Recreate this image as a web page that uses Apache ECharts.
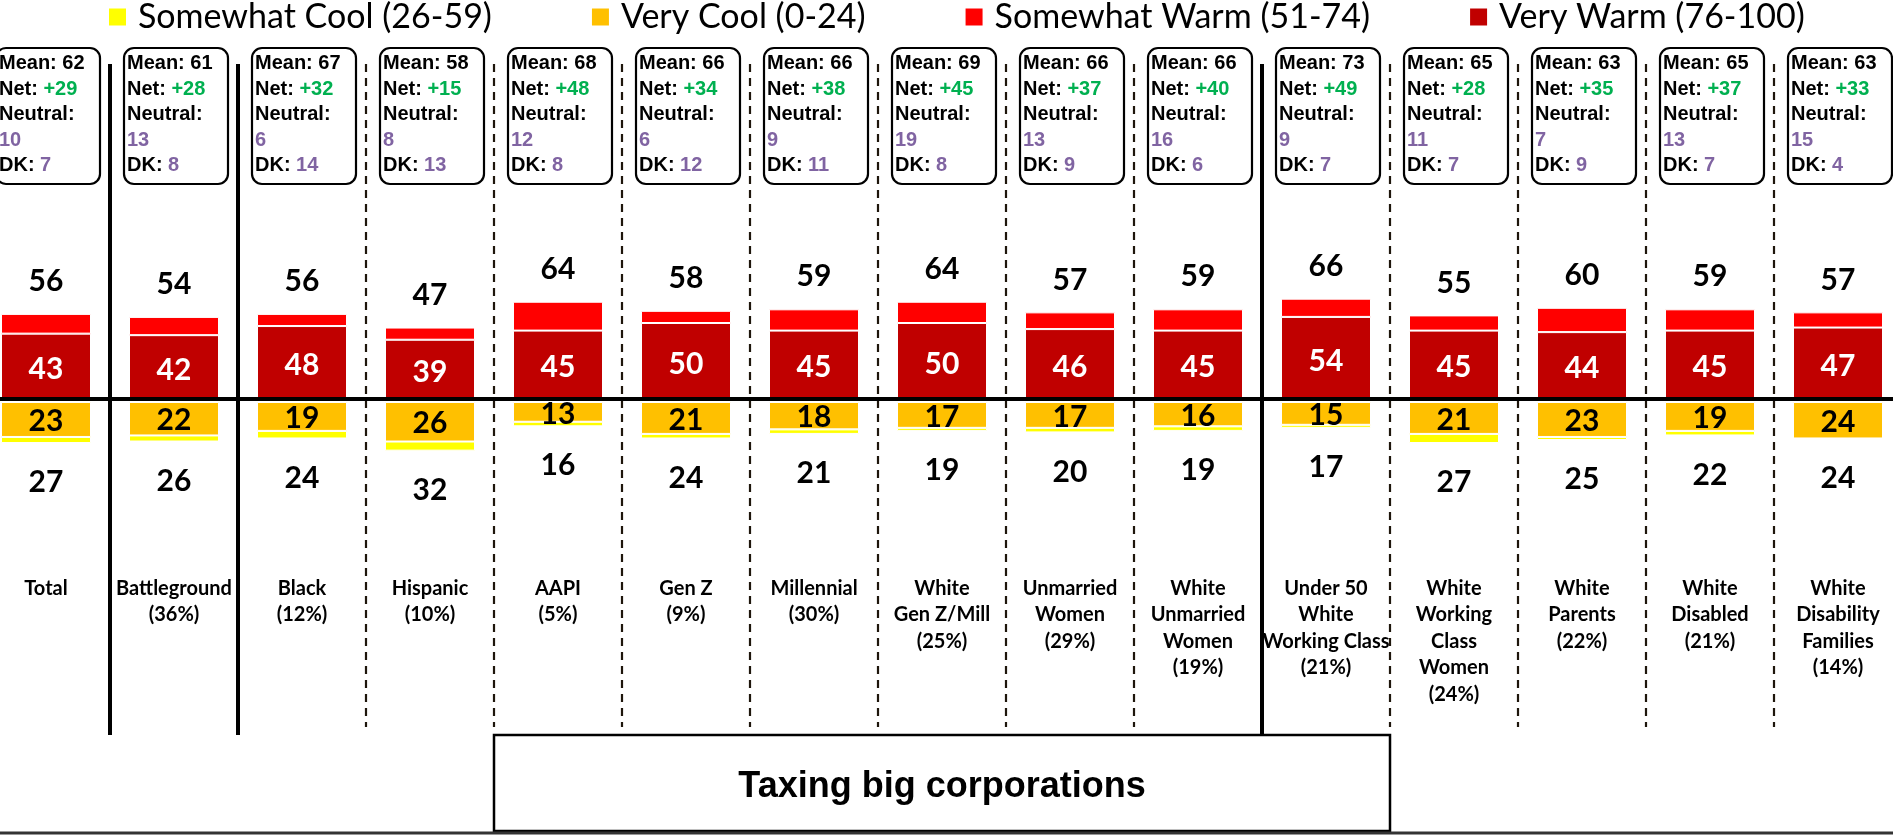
<!DOCTYPE html>
<html><head><meta charset="utf-8">
<script src="https://cdn.jsdelivr.net/npm/echarts@6/dist/echarts.min.js"></script>
<style>html,body{margin:0;padding:0;background:#fff}#c{width:1893px;height:836px}</style>
</head><body><div id="c"></div>
<script>
const categories = ['Total', 'Battleground\n(36%)', 'Black\n(12%)', 'Hispanic\n(10%)', 'AAPI\n(5%)', 'Gen Z\n(9%)', 'Millennial\n(30%)', 'White\nGen Z/Mill\n(25%)', 'Unmarried\nWomen\n(29%)', 'White\nUnmarried\nWomen\n(19%)', 'Under 50\nWhite\nWorking Class\n(21%)', 'White\nWorking\nClass\nWomen\n(24%)', 'White\nParents\n(22%)', 'White\nDisabled\n(21%)', 'White\nDisability\nFamilies\n(14%)'];
const veryWarm  = [43, 42, 48, 39, 45, 50, 45, 50, 46, 45, 54, 45, 44, 45, 47];
const warmTotal = [56, 54, 56, 47, 64, 58, 59, 64, 57, 59, 66, 55, 60, 59, 57];
const veryCool  = [23, 22, 19, 26, 13, 21, 18, 17, 17, 16, 15, 21, 23, 19, 24];
const coolTotal = [27, 26, 24, 32, 16, 24, 21, 19, 20, 19, 17, 27, 25, 22, 24];
const means    = [62, 61, 67, 58, 68, 66, 66, 69, 66, 66, 73, 65, 63, 65, 63];
const nets     = [29, 28, 32, 15, 48, 34, 38, 45, 37, 40, 49, 28, 35, 37, 33];
const neutrals = [10, 13, 6, 8, 12, 6, 9, 19, 13, 16, 9, 11, 7, 13, 15];
const dks      = [7, 8, 14, 13, 8, 12, 11, 8, 9, 6, 7, 7, 9, 7, 4];
const separators = ['solid','solid','dash','dash','dash','dash','dash','dash','dash','solid','dash','dash','dash','dash'];
const legendNames = ['Somewhat Cool (26-59)', 'Very Cool (0-24)', 'Somewhat Warm (51-74)', 'Very Warm (76-100)'];
const title = 'Taxing big corporations';

const somewhatWarm = warmTotal.map((t, i) => t - veryWarm[i]);
const somewhatCool = coolTotal.map((t, i) => t - veryCool[i]);

const LATO = 'Lato, "Open Sans", sans-serif';
const ARIAL = '"Liberation Sans", Arial, sans-serif';
const valFont = {fontFamily: LATO, fontWeight: 'bold', fontSize: 30, lineHeight: 30};

const chart = echarts.init(document.getElementById('c'), null, {renderer: 'canvas'});
chart.setOption({
  animation: false,
  backgroundColor: '#fff',
  legend: {
    data: legendNames, top: 0, left: 109, icon: 'rect', itemWidth: 17, itemHeight: 17,
    itemGap: 100, padding: 0, selectedMode: false,
    itemStyle: {borderWidth: 0},
    textStyle: {fontFamily: LATO, fontSize: 34, color: '#000', padding: [0, 0, 0, 7]}
  },
  grid: [
    {left: 46, width: 1792, top: 247, height: 152},
    {left: 46, width: 1792, top: 402, height: 152}
  ],
  xAxis: [
    {gridIndex: 0, type: 'category', data: categories, boundaryGap: false,
     axisLine: {show: false}, axisTick: {show: false}, axisLabel: {show: false}, splitLine: {show: false}},
    {gridIndex: 1, type: 'category', data: categories, position: 'bottom', boundaryGap: false,
     axisLine: {show: false}, axisTick: {show: false}, splitLine: {show: false},
     axisLabel: {interval: 0, margin: 21, fontFamily: LATO, fontWeight: 'bold', fontSize: 20, lineHeight: 26.5, color: '#000', hideOverlap: false}}
  ],
  yAxis: [
    {gridIndex: 0, type: 'value', min: 0, max: 100, show: false},
    {gridIndex: 1, type: 'value', min: -100, max: 0, show: false}
  ],
  series: [
    {name: 'Very Warm (76-100)', type: 'bar', xAxisIndex: 0, yAxisIndex: 0, stack: 'warm', barWidth: 90, clip: false,
     data: veryWarm, itemStyle: {color: '#C00000', borderColor: '#fff', borderWidth: 1},
     label: Object.assign({show: true, position: 'inside', color: '#fff', offset: [0, 3]}, valFont)},
    {name: 'Somewhat Warm (51-74)', type: 'bar', xAxisIndex: 0, yAxisIndex: 0, stack: 'warm', barWidth: 90, clip: false,
     data: somewhatWarm, itemStyle: {color: '#FF0000', borderColor: '#fff', borderWidth: 1}},
    {name: 'Very Cool (0-24)', type: 'bar', xAxisIndex: 1, yAxisIndex: 1, stack: 'cool', barWidth: 90, clip: false,
     data: veryCool.map(v => -v), itemStyle: {color: '#FFC000', borderColor: '#fff', borderWidth: 1},
     label: Object.assign({show: true, position: 'inside', color: '#000', offset: [0, 2], formatter: p => Math.abs(p.value)}, valFont)},
    {name: 'Somewhat Cool (26-59)', type: 'bar', xAxisIndex: 1, yAxisIndex: 1, stack: 'cool', barWidth: 90, clip: false,
     data: somewhatCool.map(v => -v), itemStyle: {color: '#FFFF00', borderColor: '#fff', borderWidth: 1}},
    {name: 'warmTotal', type: 'scatter', xAxisIndex: 0, yAxisIndex: 0, data: warmTotal, symbolSize: 1, clip: false,
     itemStyle: {color: 'rgba(255,255,255,0)', opacity: 1}, silent: true,
     label: Object.assign({show: true, position: 'top', distance: 17, color: '#000'}, valFont)},
    {name: 'coolTotal', type: 'scatter', xAxisIndex: 1, yAxisIndex: 1, data: coolTotal.map(v => -v), symbolSize: 1, clip: false,
     itemStyle: {color: 'rgba(255,255,255,0)', opacity: 1}, silent: true,
     label: Object.assign({show: true, position: 'bottom', distance: 24, color: '#000', formatter: p => Math.abs(p.value)}, valFont)},
    {name: 'baseline', type: 'custom', xAxisIndex: 0, yAxisIndex: 0, silent: true, z: 10, clip: false,
     data: [[0, 0]],
     renderItem: (params, api) => {
       const y = api.coord([0, 0])[1];
       return {type: 'line', shape: {x1: 0, y1: y, x2: api.getWidth(), y2: y},
               style: {stroke: '#000', lineWidth: 4}};
     }},
    {name: 'separators', type: 'custom', xAxisIndex: 0, yAxisIndex: 0, silent: true, z: 1, clip: false,
     data: separators.map((s, i) => [i, s === 'solid' ? 1 : 0]),
     renderItem: (params, api) => {
       const i = api.value(0);
       const solid = api.value(1) === 1;
       const x = (api.coord([i, 0])[0] + api.coord([i + 1, 0])[0]) / 2;
       return {type: 'line', shape: {x1: x, y1: 64, x2: x, y2: solid ? 735 : 727},
               style: {stroke: solid ? '#000' : '#1e160c', lineWidth: solid ? 4 : 2.2, lineDash: solid ? null : [8, 6]}};
     }},
    {name: 'boxes', type: 'custom', xAxisIndex: 0, yAxisIndex: 0, silent: true, z: 5, clip: false,
     data: means.map((m, i) => [i, m, nets[i], neutrals[i], dks[i]]),
     renderItem: (params, api) => {
       const i = api.value(0);
       const x = api.coord([i, 0])[0] + 2;
       const txt = '{k|Mean: ' + api.value(1) + '}\n{k|Net: }{g|+' + api.value(2) + '}\n{k|Neutral:}\n{p|' + api.value(3) + '}\n{k|DK: }{p|' + api.value(4) + '}';
       const base = {fontFamily: ARIAL, fontWeight: 'bold', fontSize: 20, lineHeight: 25.5};
       return {type: 'group', children: [
         {type: 'rect', shape: {x: x - 52, y: 48, width: 104, height: 136, r: 10},
          style: {fill: '#fff', stroke: '#000', lineWidth: 2.2}},
         {type: 'text', style: {x: x - 49, y: 51, text: txt, align: 'left', verticalAlign: 'top',
          fontFamily: ARIAL, fontWeight: 'bold', fontSize: 20, lineHeight: 25.5, fill: '#000',
          rich: {k: Object.assign({fill: '#000'}, base), g: Object.assign({fill: '#00B050'}, base), p: Object.assign({fill: '#8064A2'}, base)}}}
       ]};
     }}
  ],
  graphic: [
    {type: 'rect', shape: {x: 494, y: 735, width: 896, height: 96}, style: {fill: '#fff', stroke: '#000', lineWidth: 2.5}, z: 20},
    {type: 'text', x: 942, y: 787, style: {text: title, fontFamily: ARIAL, fontWeight: 'bold', fontSize: 36, fill: '#000', align: 'center', verticalAlign: 'middle'}, z: 21},
    {type: 'line', shape: {x1: 0, y1: 833, x2: 1893, y2: 833}, style: {stroke: '#333', lineWidth: 3}, z: 22}
  ]
});
</script></body></html>
